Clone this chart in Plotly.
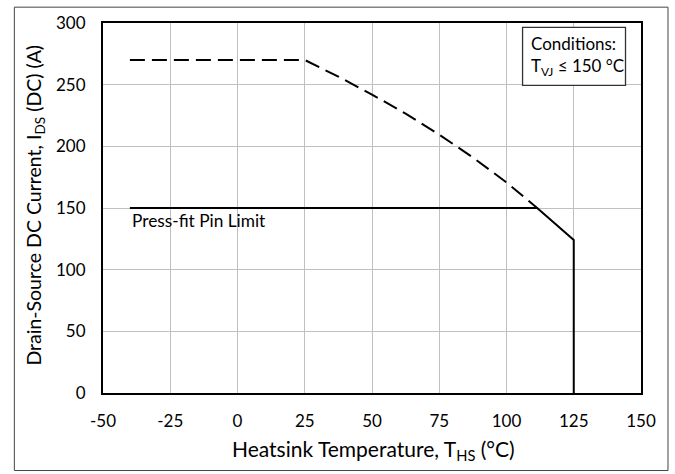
import plotly.graph_objects as go

# ---- data ----
x_range = [-50, 150]
y_range = [0, 300]
x_ticks = [-50, -25, 0, 25, 50, 75, 100, 125, 150]
x_tick_text = ["-50", "-25", "0", "25", "50", "75", "100", "125", "150"]
y_ticks = [0, 50, 100, 150, 200, 250, 300]
y_tick_text = ["0", "50", "100", "150", "200", "250", "300"]

dashed_x = [-40, 25, 37.5, 50, 62.5, 75, 87.5, 100, 111.4]
dashed_y = [270, 270, 256.5, 242, 226.5, 209.5, 191, 170.7, 150]

solid_x = [-40, 111.4, 125, 125]
solid_y = [150, 150, 124, 0]

label_text = "Press-fit Pin Limit"
label_x = -40
label_y = 139.5

# ---- layout constants (pixels) ----
W, H = 675, 474
L, R, T, B = 102.7, 641.0, 19.0, 392.7
PW, PH = R - L, B - T
FONT = "Lato"
FS = 17


def px(xp):
    return (xp - L) / PW


def py(yp):
    return (B - yp) / PH


fig = go.Figure()
fig.add_trace(go.Scatter(x=dashed_x, y=dashed_y, mode="lines",
                         line=dict(color="black", width=2, dash="15px,7px"),
                         showlegend=False, hoverinfo="skip"))
fig.add_trace(go.Scatter(x=solid_x, y=solid_y, mode="lines",
                         line=dict(color="black", width=2),
                         showlegend=False, hoverinfo="skip"))

axis_common = dict(showgrid=True, gridcolor="#c0c0c0", gridwidth=1,
                   showline=True, linecolor="black", linewidth=2, mirror=True,
                   ticks="", zeroline=False,
                   tickfont=dict(family=FONT, size=FS, color="black"))

fig.update_layout(
    width=W, height=H,
    margin=dict(l=L, r=W - R, t=T, b=H - B, pad=0),
    paper_bgcolor="white", plot_bgcolor="white",
    xaxis=dict(range=x_range, tickmode="array", tickvals=x_ticks, ticktext=x_tick_text,
               ticklabelstandoff=12, **axis_common),
    yaxis=dict(range=y_range, tickmode="array", tickvals=y_ticks, ticktext=y_tick_text,
               ticklabelstandoff=12, **axis_common),
    font=dict(family=FONT, size=FS, color="black"),
)

shapes = [
    # outer frame
    dict(type="rect", xref="paper", yref="paper",
         x0=px(14), x1=px(668), y0=py(471), y1=py(3),
         line=dict(color="#444444", width=1), layer="below"),
    # conditions box
    dict(type="rect", xref="paper", yref="paper",
         x0=px(522.5), x1=px(625.5), y0=py(82), y1=py(23.5),
         line=dict(color="#333333", width=1.3), fillcolor="white", layer="above"),
]
fig.update_layout(shapes=shapes)

ann = [
    dict(x=label_x, y=label_y, xref="x", yref="y", text=label_text,
         showarrow=False, xanchor="left", yanchor="middle",
         font=dict(family=FONT, size=17.3, color="black")),
    dict(x=px(528.5), y=py(39.5), xref="paper", yref="paper", text="Conditions:",
         showarrow=False, xanchor="left", yanchor="middle",
         font=dict(family=FONT, size=17, color="black")),
    dict(x=px(528.5), y=py(63.5), xref="paper", yref="paper",
         text="T<sub>VJ</sub> ≤ 150 °C",
         showarrow=False, xanchor="left", yanchor="middle",
         font=dict(family=FONT, size=17, color="black")),
    dict(x=px(373.5), y=py(450), xref="paper", yref="paper",
         text="Heatsink Temperature, T<sub>HS</sub> (°C)",
         showarrow=False, xanchor="center", yanchor="middle",
         font=dict(family=FONT, size=21, color="black")),
    dict(x=px(35), y=py(203), xref="paper", yref="paper",
         text="Drain-Source DC Current, I<sub>DS</sub> (DC) (A)",
         showarrow=False, xanchor="center", yanchor="middle", textangle=-90,
         font=dict(family=FONT, size=19.5, color="black")),
]
fig.update_layout(annotations=ann)

fig.write_html("out.html")
